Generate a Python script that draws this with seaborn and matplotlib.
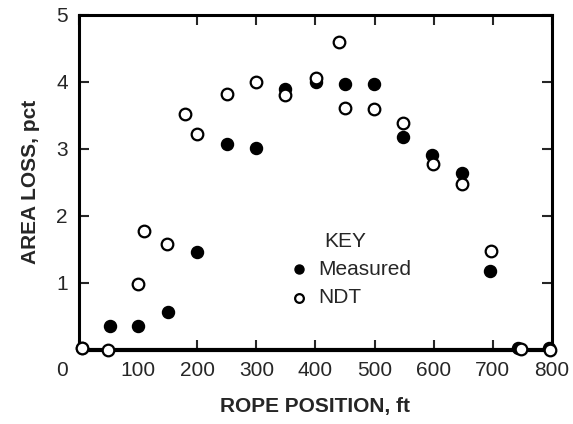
import matplotlib
matplotlib.use("Agg")
import matplotlib.pyplot as plt
import matplotlib.transforms as mtransforms
import pandas as pd
import seaborn as sns

# values
measured_pos = [5, 52, 100, 151, 200, 250, 300, 349, 401, 450, 499, 548, 597, 648, 695, 743, 795]
measured_loss = [0.03, 0.36, 0.36, 0.57, 1.46, 3.07, 3.01, 3.90, 4.00, 3.97, 3.97, 3.17, 2.91, 2.64, 1.17, 0.03, 0.03]

ndt_pos = [5, 49, 100, 110, 149, 179, 200, 250, 300, 349, 401, 440, 450, 499, 548, 599, 648, 697, 748, 797]
ndt_loss = [0.03, 0.0, 0.98, 1.77, 1.58, 3.52, 3.22, 3.82, 4.00, 3.81, 4.05, 4.60, 3.61, 3.60, 3.39, 2.77, 2.47, 1.47, 0.01, 0.0]

x_ticks = [0, 100, 200, 300, 400, 500, 600, 700, 800]
y_ticks = [1, 2, 3, 4, 5]

df = pd.concat([
    pd.DataFrame({"pos": measured_pos, "loss": measured_loss, "kind": "Measured"}),
    pd.DataFrame({"pos": ndt_pos, "loss": ndt_loss, "kind": "NDT"}),
])

sns.set_style("ticks")
plt.rcParams["font.family"] = ["Liberation Sans", "DejaVu Sans"]

fig = plt.figure(figsize=(5.73, 4.24), dpi=100)
ax = fig.add_axes([0.138, 0.175, 0.825, 0.79])

sns.scatterplot(data=df[df.kind == "Measured"], x="pos", y="loss", ax=ax,
                marker="o", s=75, color="black", edgecolor="black",
                linewidth=1, label="Measured", zorder=4, clip_on=False)
sns.scatterplot(data=df[df.kind == "NDT"], x="pos", y="loss", ax=ax,
                marker="o", s=70, facecolor="white", edgecolor="black",
                linewidth=1.6, label="NDT", zorder=5, clip_on=False)

ax.set_xlim(0, 800)
ax.set_ylim(0, 5)
ax.set_xticks(x_ticks)
ax.set_yticks(y_ticks)
ax.tick_params(direction="in", length=7, width=1.5, labelsize=15,
               top=True, right=True, pad=8)
for s in ax.spines.values():
    s.set_linewidth(2.2)
    s.set_color("black")
ax.spines["bottom"].set_linewidth(3)

# hide tick marks at the axis ends
for t in ax.xaxis.get_major_ticks():
    if t.get_loc() in (0, 800):
        t.tick1line.set_visible(False)
        t.tick2line.set_visible(False)
for t in ax.yaxis.get_major_ticks():
    if t.get_loc() == 5:
        t.tick1line.set_visible(False)
        t.tick2line.set_visible(False)

# the "0" label sits left of the axis in the original
lab0 = ax.get_xticklabels()[0]
lab0.set_transform(lab0.get_transform() + mtransforms.ScaledTranslation(-0.17, 0, fig.dpi_scale_trans))

ax.set_xlabel("ROPE POSITION, ft", fontsize=15, labelpad=12)
ax.set_ylabel("AREA LOSS, pct", fontsize=15, fontweight="bold", labelpad=12)
ax.xaxis.label.set_fontweight("bold")

handles, labels = ax.get_legend_handles_labels()
leg = ax.legend(handles, labels,
                title="KEY", frameon=False, fontsize=15, title_fontsize=15,
                loc="center left", bbox_to_anchor=(0.4, 0.24),
                handletextpad=-0.1, markerscale=0.75, borderpad=0, labelspacing=0.45)

fig.savefig("out.png", dpi=100)
